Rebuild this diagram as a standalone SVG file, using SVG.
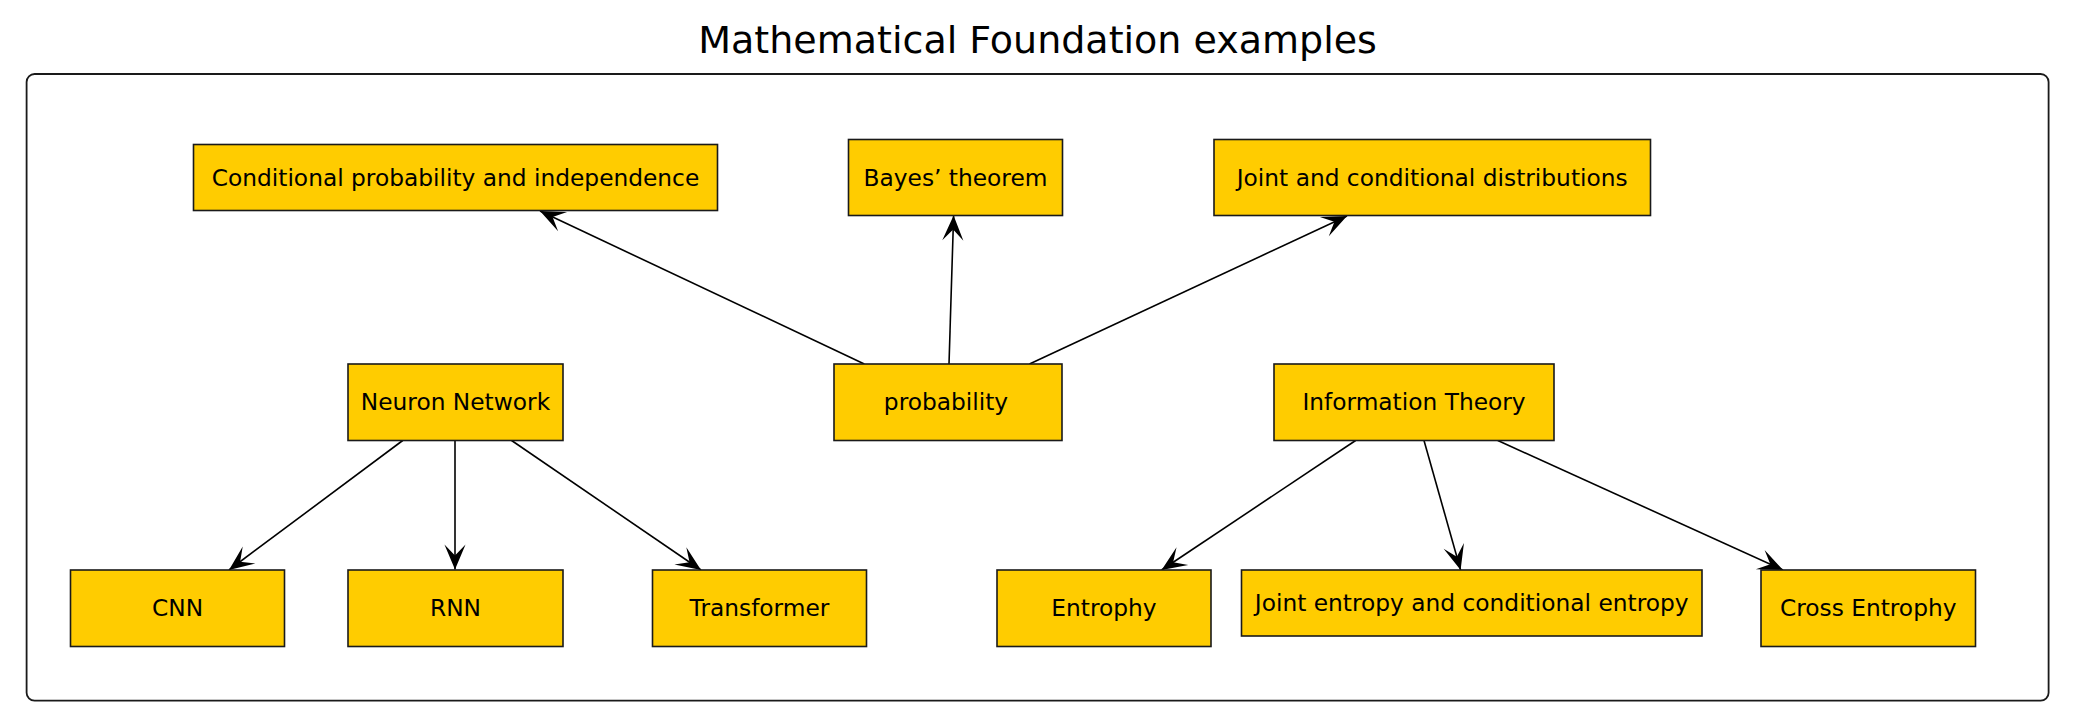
<svg xmlns="http://www.w3.org/2000/svg" width="2084" height="716" viewBox="0 0 2084 716">
<style>
.node rect{fill:#FFCC00;stroke:#1a1a1a;stroke-width:1.6}
.node text{font-family:"DejaVu Sans","Liberation Sans",sans-serif;font-size:23.3px;fill:#000;text-anchor:middle}
.edges line{stroke:#000;stroke-width:1.6;marker-end:url(#arr)}
.title{font-family:"DejaVu Sans","Liberation Sans",sans-serif;font-size:38px;fill:#000;text-anchor:middle}
</style>
<defs>
<marker id="arr" markerUnits="userSpaceOnUse" orient="auto" refX="0" refY="0" markerWidth="30" markerHeight="30" viewBox="-25 -12 27 24" overflow="visible">
<path d="M0,0 L-22.5,-9.5 L-12.5,0 L-22.5,9.5 Z" fill="#000"/>
</marker>
</defs>
<rect width="2084" height="716" fill="#fff"/>
<text class="title" x="1037.6" y="53.3">Mathematical Foundation examples</text>
<rect id="frame" x="26.6" y="74" width="2022" height="626.7" rx="8" ry="8" fill="none" stroke="#1a1a1a" stroke-width="1.8"/>
<g class="edges" id="connectors">
<line x1="864.3" y1="364" x2="540" y2="211"/>
<line x1="949" y1="364" x2="953.6" y2="215.5"/>
<line x1="1029.5" y1="364" x2="1347" y2="216"/>
<line x1="402.7" y1="440.5" x2="229" y2="570"/>
<line x1="455" y1="440.5" x2="455" y2="569.5"/>
<line x1="511.6" y1="440.5" x2="701" y2="570"/>
<line x1="1355.6" y1="440.5" x2="1161.6" y2="570"/>
<line x1="1424" y1="440.5" x2="1460.6" y2="570"/>
<line x1="1497.8" y1="440.5" x2="1783" y2="570"/>
</g>
<g class="node" id="cond"><rect x="193.5" y="144.5" width="524" height="66"/><text x="455.5" y="185.5">Conditional probability and independence</text></g>
<g class="node" id="bayes"><rect x="848.5" y="139.5" width="214" height="76"/><text x="955.5" y="185.5">Bayes’ theorem</text></g>
<g class="node" id="jointdist"><rect x="1214" y="139.5" width="436.5" height="76"/><text x="1432.2" y="185.5">Joint and conditional distributions</text></g>
<g class="node" id="nn"><rect x="348" y="364" width="215" height="76.5"/><text x="455.5" y="410">Neuron Network</text></g>
<g class="node" id="prob"><rect x="834" y="364" width="228" height="76.5"/><text x="946" y="410">probability</text></g>
<g class="node" id="it"><rect x="1274" y="364" width="280" height="76.5"/><text x="1414" y="410">Information Theory</text></g>
<g class="node" id="cnn"><rect x="70.5" y="570" width="214" height="76.5"/><text x="177.5" y="616">CNN</text></g>
<g class="node" id="rnn"><rect x="348" y="570" width="215" height="76.5"/><text x="455.5" y="616">RNN</text></g>
<g class="node" id="transformer"><rect x="652.5" y="570" width="214" height="76.5"/><text x="759.5" y="616">Transformer</text></g>
<g class="node" id="entrophy"><rect x="997" y="570" width="214" height="76.5"/><text x="1104" y="616">Entrophy</text></g>
<g class="node" id="jointent"><rect x="1241.5" y="570" width="460.5" height="66"/><text x="1471.7" y="611">Joint entropy and conditional entropy</text></g>
<g class="node" id="cross"><rect x="1761" y="570" width="214.5" height="76.5"/><text x="1868.2" y="616">Cross Entrophy</text></g>
</svg>
